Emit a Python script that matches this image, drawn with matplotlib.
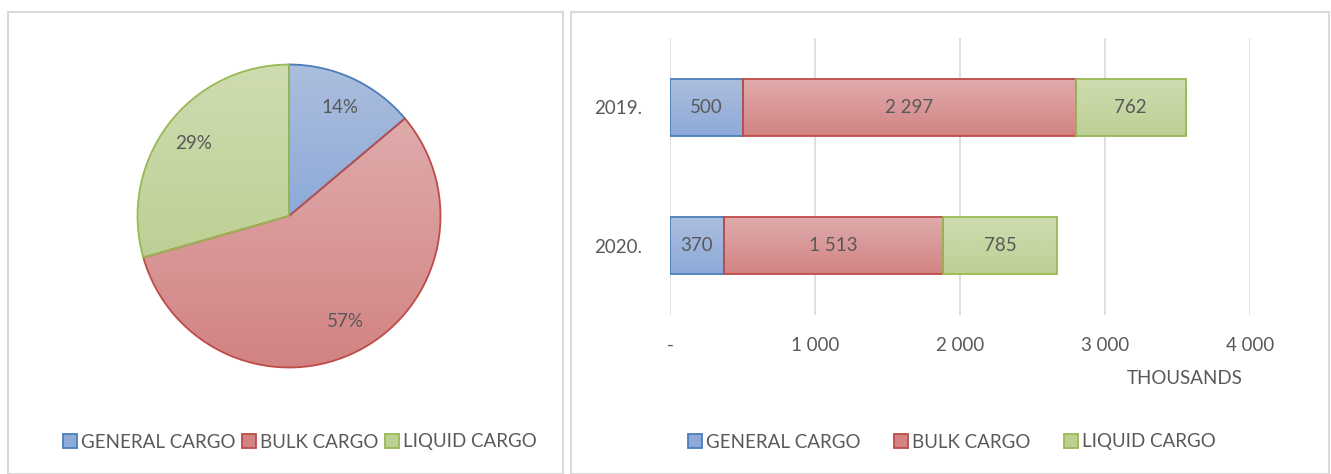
import matplotlib
matplotlib.use("Agg")
import matplotlib.pyplot as plt
from matplotlib.patches import Rectangle, Patch
from matplotlib.colors import to_rgb
import numpy as np

plt.rcParams['font.family'] = ['Lato', 'DejaVu Sans']

# data
cargo_types = ["GENERAL CARGO", "BULK CARGO", "LIQUID CARGO"]
years = ["2019.", "2020."]
general = [500, 370]
bulk = [2297, 1513]
liquid = [762, 785]
pie_values = [370, 1513, 785]   # 2020. shares
x_ticks = [0, 1000, 2000, 3000, 4000]

# gradient top / bottom colours and edge colours
grad_top = ["#abbedd", "#dfabab", "#cedcb0"]
grad_bot = ["#8eaad9", "#d38383", "#bdd094"]
edge_cols = ["#4a7ebb", "#be4b48", "#98b954"]
txt_col = "#595959"
fs = 13.5


def grad_fill(ax, patch, top, bot, z=2):
    path = patch.get_patch_transform().transform_path(patch.get_path())
    ext = path.get_extents()
    t = np.linspace(0, 1, 64)[:, None]
    arr = (1 - t) * np.array(to_rgb(bot)) + t * np.array(to_rgb(top))
    arr = arr[:, None, :]
    im = ax.imshow(arr, extent=[ext.x0, ext.x1, ext.y0, ext.y1], origin="lower",
                   aspect="auto", zorder=z, interpolation="bilinear")
    im.set_clip_path(patch)


fig = plt.figure(figsize=(13.31, 4.74), dpi=100)
W, H = 1331, 474

# panel frames
for x0, x1 in [(8, 563), (571, 1329)]:
    fig.add_artist(Rectangle((x0 / W, 0), (x1 - x0) / W, 1 - 12 / H, transform=fig.transFigure,
                             fill=False, edgecolor="#d9d9d9", linewidth=1.5))

# ---- pie ----
cx, cy, r = 289, 216, 153
ax1 = fig.add_axes([(cx - r) / W, (H - cy - r) / H, 2 * r / W, 2 * r / H])
wedges, texts, autotexts = ax1.pie(pie_values, startangle=90, counterclock=False,
                                   autopct="%.0f%%", pctdistance=0.79,
                                   wedgeprops=dict(linewidth=1.3))
for i, w in enumerate(wedges):
    w.set_facecolor("none")
    w.set_edgecolor(edge_cols[i])
    w.set_zorder(3)
    grad_fill(ax1, w, grad_top[i], grad_bot[i])
for t in autotexts:
    t.set_color(txt_col)
    t.set_fontsize(fs)
    t.set_zorder(5)
ax1.set_xlim(-1.01, 1.01)
ax1.set_ylim(-1.01, 1.01)
ax1.set_aspect("auto")
ax1.axis("off")

# ---- stacked bars ----
ax2 = fig.add_axes([670 / W, 1 - 315 / H, 580 / W, 277 / H])
ypos = np.array([1, 0])
lefts = np.zeros(2)
for i, vals in enumerate([general, bulk, liquid]):
    bars = ax2.barh(ypos, vals, left=lefts, height=0.41, facecolor="none",
                    edgecolor=edge_cols[i], linewidth=1.3, zorder=3)
    for b in bars:
        grad_fill(ax2, b, grad_top[i], grad_bot[i])
    for y, l, v in zip(ypos, lefts, vals):
        ax2.text(l + v / 2, y, f"{v:,}".replace(",", " "), ha="center", va="center",
                 color=txt_col, fontsize=fs, zorder=5)
    lefts = lefts + np.array(vals)

ax2.set_xlim(0, 4000)
ax2.set_ylim(-0.5, 1.5)
ax2.set_xticks(x_ticks)
ax2.set_xticklabels(["-" if v == 0 else f"{v:,}".replace(",", " ") for v in x_ticks])
ax2.set_yticks(ypos)
ax2.set_yticklabels(years)
ax2.tick_params(axis="x", length=0, pad=16, labelcolor=txt_col, labelsize=fs)
ax2.tick_params(axis="y", length=0, pad=20, labelcolor=txt_col, labelsize=fs)
ax2.grid(axis="x", color="#d9d9d9", linewidth=1.2, zorder=0)
ax2.set_axisbelow(True)
for s in ax2.spines.values():
    s.set_visible(False)
fig.text(1185 / W, 1 - 378 / H, "THOUSANDS", ha="center", va="center", color=txt_col, fontsize=fs)

# legends
handles = [Patch(facecolor=grad_bot[i], edgecolor=edge_cols[i], linewidth=1.3) for i in range(3)]
fig.legend(handles, cargo_types, loc="center", bbox_to_anchor=(300 / W, 1 - 442 / H), ncol=3,
           frameon=False, fontsize=fs, labelcolor=txt_col, handlelength=0.75, handleheight=0.75,
           handletextpad=0.2, columnspacing=0.35)
fig.legend(handles, cargo_types, loc="center", bbox_to_anchor=(952 / W, 1 - 442 / H), ncol=3,
           frameon=False, fontsize=fs, labelcolor=txt_col, handlelength=0.75, handleheight=0.75,
           handletextpad=0.2, columnspacing=1.8)

fig.savefig("out.png", dpi=100)
